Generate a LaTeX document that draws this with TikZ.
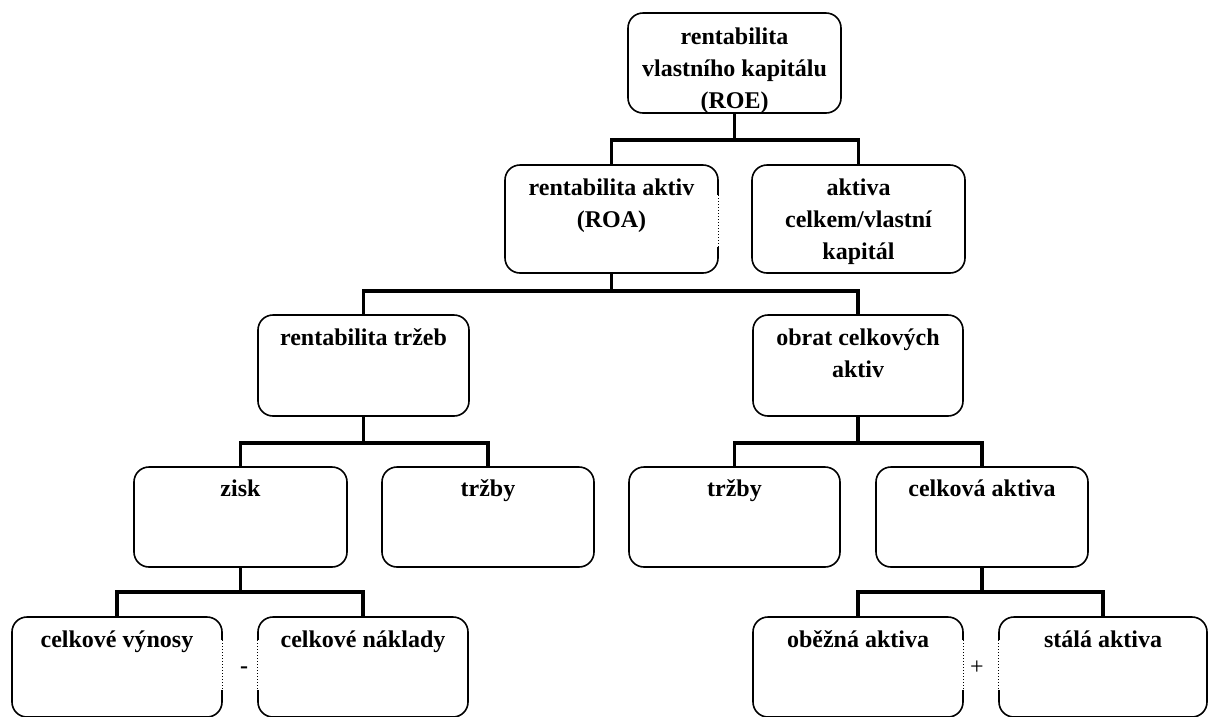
\documentclass[tikz,border=0pt]{standalone}
\usepackage{fontspec}
\setmainfont{Liberation Serif}
\begin{document}
\begin{tikzpicture}[x=1pt,y=-1pt,
  box/.style={draw, line width=1.6pt, rounded corners=15pt, inner sep=0pt, fill=white},
  lbl/.style={anchor=north, inner sep=0pt, align=center, font=\fontsize{24}{32}\selectfont\bfseries},
  sign/.style={inner sep=0pt, font=\fontsize{24}{32}\selectfont},
  conn/.style={line width=3.2pt},
  dots/.style={line width=1.2pt, dash pattern=on 1pt off 2pt},
  gap/.style={fill=white}]
\useasboundingbox (0,0) rectangle (1211,716);

% boxes
\node[box, minimum width=213pt, minimum height=100pt] (roe) at (734.5,63) {};
\node[box, minimum width=213pt, minimum height=108pt] (roa) at (611.5,219) {};
\node[box, minimum width=213pt, minimum height=108pt] (akt) at (858.5,219) {};
\node[box, minimum width=211pt, minimum height=101pt] (rt) at (363.5,365.5) {};
\node[box, minimum width=210pt, minimum height=101pt] (obr) at (858,365.5) {};
\node[box, minimum width=213pt, minimum height=100pt] (zisk) at (240.5,517) {};
\node[box, minimum width=212pt, minimum height=100pt] (trz1) at (488,517) {};
\node[box, minimum width=211pt, minimum height=100pt] (trz2) at (734.5,517) {};
\node[box, minimum width=212pt, minimum height=100pt] (ca) at (982,517) {};
\node[box, minimum width=210pt, minimum height=100pt] (cv) at (117,667) {};
\node[box, minimum width=210pt, minimum height=100pt] (cn) at (363,667) {};
\node[box, minimum width=210pt, minimum height=100pt] (oa) at (858,667) {};
\node[box, minimum width=208pt, minimum height=100pt] (sa) at (1103,667) {};

% labels
\node[lbl] (roe-t) at ([yshift=-10pt]roe.north) {\strut rentabilita\\vlastního kapitálu\\(ROE)};
\node[lbl] (roa-t) at ([yshift=-9pt]roa.north) {\strut rentabilita aktiv\\(ROA)};
\node[lbl] (akt-t) at ([yshift=-9pt]akt.north) {\strut aktiva\\celkem/vlastní\\kapitál};
\node[lbl] (rt-t) at ([yshift=-9pt]rt.north) {\strut rentabilita tržeb};
\node[lbl] (obr-t) at ([yshift=-9pt]obr.north) {\strut obrat celkových\\aktiv};
\node[lbl] (zisk-t) at ([yshift=-8pt]zisk.north) {\strut zisk};
\node[lbl] (trz1-t) at ([yshift=-8pt]trz1.north) {\strut tržby};
\node[lbl] (trz2-t) at ([yshift=-8pt]trz2.north) {\strut tržby};
\node[lbl] (ca-t) at ([yshift=-8pt]ca.north) {\strut celková aktiva};
\node[lbl] (cv-t) at ([yshift=-9pt]cv.north) {\strut celkové výnosy};
\node[lbl] (cn-t) at ([yshift=-9pt]cn.north) {\strut celkové náklady};
\node[lbl] (oa-t) at ([yshift=-9pt]oa.north) {\strut oběžná aktiva};
\node[lbl] (sa-t) at ([yshift=-9pt]sa.north) {\strut stálá aktiva};

% dotted edge segments
\coordinate (roaA) at (roa.east |- 0,195);
\coordinate (roaB) at (roa.east |- 0,247);
\coordinate (cvA) at (cv.east |- 0,640);
\coordinate (cvB) at (cv.east |- 0,690);
\coordinate (cnA) at (cn.west |- 0,640);
\coordinate (cnB) at (cn.west |- 0,690);
\coordinate (oaA) at (oa.east |- 0,640);
\coordinate (oaB) at (oa.east |- 0,690);
\coordinate (saA) at (sa.west |- 0,640);
\coordinate (saB) at (sa.west |- 0,690);
\foreach \p in {roa,cv,cn,oa,sa}{
  \fill[gap] ([xshift=-1.8pt]\p A) rectangle ([xshift=1.8pt]\p B);
  \draw[dots] (\p A) -- (\p B);
}

% signs
\node[sign, font=\fontsize{24}{32}\selectfont\bfseries] (minus) at (244,670) {-};
\node[sign] (plus) at (977,668) {+};

% connectors
\coordinate (j1) at (roe.south |- 0,140);
\draw[conn] (roe.south) -- (j1);
\draw[conn] (roa.north) |- (j1) -| (akt.north);

\coordinate (j2) at (roa.south |- 0,291);
\draw[conn] (roa.south) -- (j2);
\draw[conn] (rt.north) |- (j2) -| (obr.north);

\coordinate (j3) at (rt.south |- 0,443);
\draw[conn] (rt.south) -- (j3);
\draw[conn] (zisk.north) |- (j3) -| (trz1.north);

\coordinate (j4) at (obr.south |- 0,443);
\draw[conn] (obr.south) -- (j4);
\draw[conn] (trz2.north) |- (j4) -| (ca.north);

\coordinate (j5) at (zisk.south |- 0,592);
\draw[conn] (zisk.south) -- (j5);
\draw[conn] (cv.north) |- (j5) -| (cn.north);

\coordinate (j6) at (ca.south |- 0,592);
\draw[conn] (ca.south) -- (j6);
\draw[conn] (oa.north) |- (j6) -| (sa.north);
\end{tikzpicture}
\end{document}
